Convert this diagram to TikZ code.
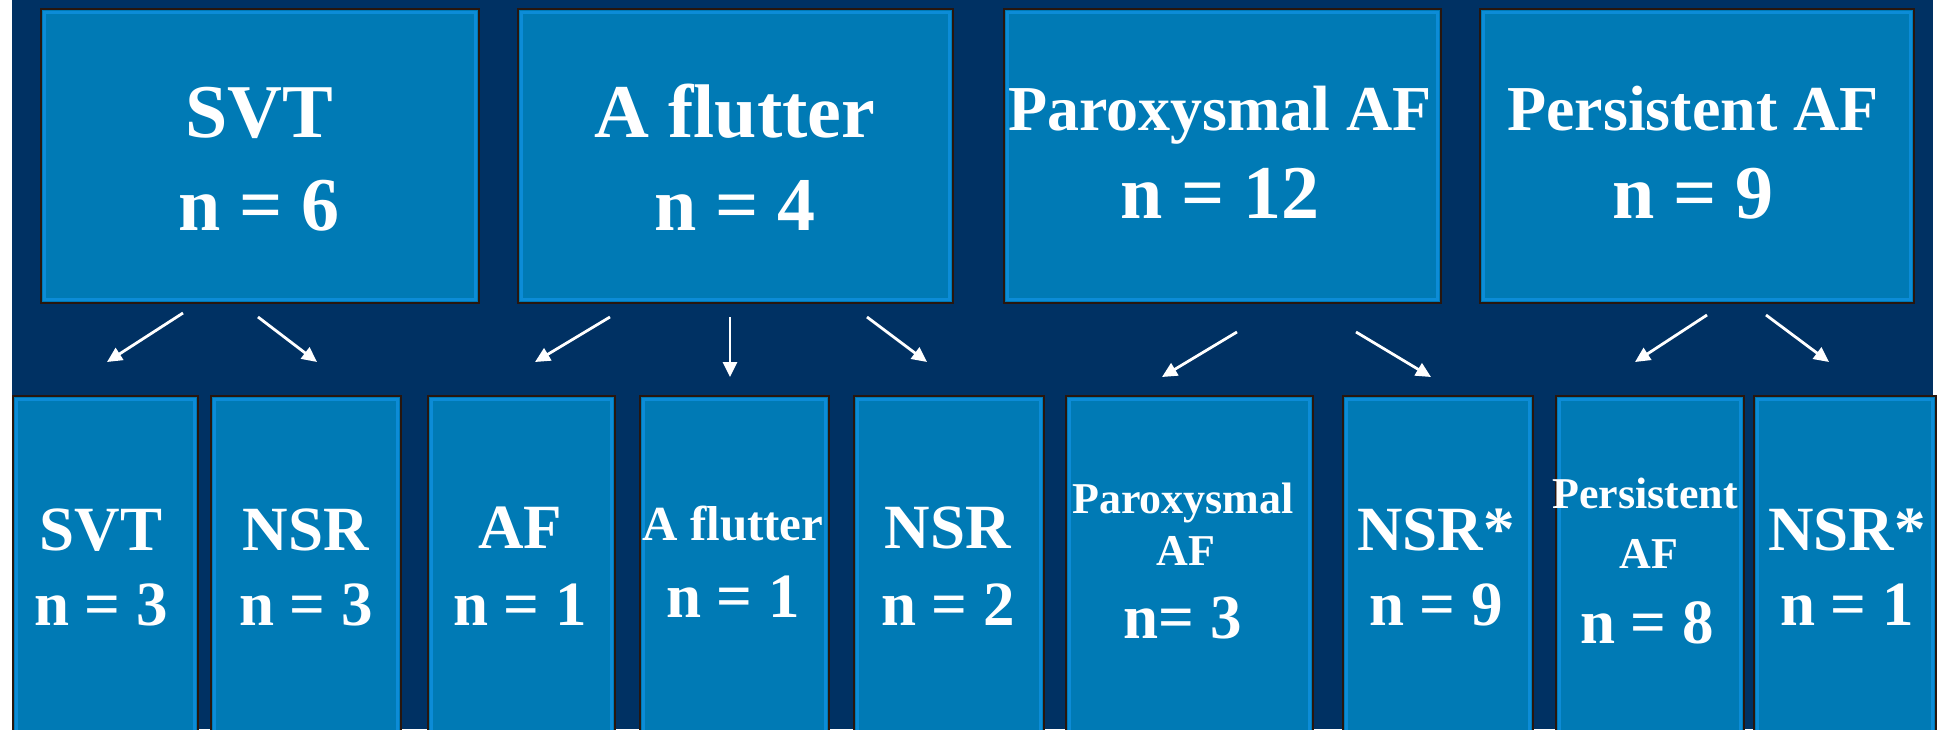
\documentclass[tikz,border=0pt]{standalone}
\usepackage{fontspec}
\setmainfont{Liberation Serif}
\usetikzlibrary{arrows.meta}
\definecolor{navy}{RGB}{0,49,99}
\definecolor{boxblue}{RGB}{0,122,181}
\definecolor{edgec}{RGB}{40,22,14}
\definecolor{rimblue}{RGB}{12,140,215}
\tikzset{
  panel/.style={draw=edgec, line width=1.5pt, fill=boxblue, inner sep=0pt, anchor=north west,
    path picture={\draw[rimblue, line width=2.5pt]
      ([xshift=3.5pt,yshift=-3.5pt]path picture bounding box.north west) rectangle
      ([xshift=-3.5pt,yshift=3.5pt]path picture bounding box.south east);}},
  lbl/.style={text=white, anchor=base, inner sep=0pt},
  bigt/.style={lbl, font=\bfseries\fontsize{76pt}{80pt}\selectfont},
  midt/.style={lbl, font=\bfseries\fontsize{64pt}{68pt}\selectfont},
  lowt/.style={lbl, font=\bfseries\fontsize{63pt}{68pt}\selectfont},
  flt/.style={lbl, font=\bfseries\fontsize{49pt}{54pt}\selectfont},
  smt/.style={lbl, font=\bfseries\fontsize{44pt}{48pt}\selectfont},
  arr/.style={white, line width=2.8pt, -{Triangle[length=15pt,width=14pt]}},
}
\begin{document}
\begin{tikzpicture}[x=1pt,y=-1pt]
\clip (0,0) rectangle (1939,729);
\fill[white] (0,0) rectangle (1939,729);
\fill[navy] (12,0) rectangle (1933,729);
% top panels
\node[panel, minimum width=438pt, minimum height=294pt] (t1) at (40,8) {};
\node[panel, minimum width=435pt, minimum height=294pt] (t2) at (517,8) {};
\node[panel, minimum width=437pt, minimum height=294pt] (t3) at (1003,8) {};
\node[panel, minimum width=434pt, minimum height=294pt] (t4) at (1479,8) {};
% bottom panels
\node[panel, minimum width=185pt, minimum height=345pt] (b1) at (12,395) {};
\node[panel, minimum width=190pt, minimum height=345pt] (b2) at (210,395) {};
\node[panel, minimum width=187pt, minimum height=345pt] (b3) at (427,395) {};
\node[panel, minimum width=189pt, minimum height=345pt] (b4) at (639,395) {};
\node[panel, minimum width=190pt, minimum height=345pt] (b5) at (853,395) {};
\node[panel, minimum width=247pt, minimum height=345pt] (b6) at (1065,395) {};
\node[panel, minimum width=190pt, minimum height=345pt] (b7) at (1342,395) {};
\node[panel, minimum width=188pt, minimum height=345pt] (b8) at (1555,395) {};
\node[panel, minimum width=182pt, minimum height=345pt] (b9) at (1753,395) {};
% top texts
\node[bigt] (t1a) at (259,137) {SVT};
\node[bigt] (t1b) at (259,230) {n = 6};
\node[bigt] (t2a) at (735,137) {A flutter};
\node[bigt] (t2b) at (735,230) {n = 4};
\node[midt] (t3a) at (1220,130) {Paroxysmal AF};
\node[bigt] (t3b) at (1220,218) {n = 12};
\node[midt] (t4a) at (1693,130) {Persistent AF};
\node[bigt] (t4b) at (1693,218) {n = 9};
% bottom texts
\node[lowt] (b1a) at (101,550) {SVT};
\node[lowt] (b1b) at (101,625) {n = 3};
\node[lowt] (b2a) at (306,550) {NSR};
\node[lowt] (b2b) at (306,625) {n = 3};
\node[lowt] (b3a) at (520,548) {AF};
\node[lowt] (b3b) at (520,625) {n = 1};
\node[flt] (b4a) at (733,540) {A flutter};
\node[lowt] (b4b) at (733,617) {n = 1};
\node[lowt] (b5a) at (948,548) {NSR};
\node[lowt] (b5b) at (948,625) {n = 2};
\node[smt] (b6a) at (1183,513) {Paroxysmal};
\node[smt] (b6b) at (1186,565) {AF};
\node[lowt] (b6c) at (1183,638) {n= 3};
\node[lowt] (b7a) at (1436,550) {NSR*};
\node[lowt] (b7b) at (1436,625) {n = 9};
\node[smt] (b8a) at (1645,508) {Persistent};
\node[smt] (b8b) at (1649,568) {AF};
\node[lowt] (b8c) at (1647,643) {n = 8};
\node[lowt] (b9a) at (1847,550) {NSR*};
\node[lowt] (b9b) at (1847,625) {n = 1};
% arrow end points
\coordinate (s1) at (183,313);  \coordinate (e1) at (107,362);
\coordinate (s2) at (258,317);  \coordinate (e2) at (317,362);
\coordinate (s3) at (610,317);  \coordinate (e3) at (535,362);
\coordinate (s4) at (730,317);  \coordinate (e4) at (730,377);
\coordinate (s5) at (867,317);  \coordinate (e5) at (927,362);
\coordinate (s6) at (1237,332); \coordinate (e6) at (1162,377);
\coordinate (s7) at (1356,332); \coordinate (e7) at (1431,377);
\coordinate (s8) at (1707,315); \coordinate (e8) at (1635,362);
\coordinate (s9) at (1766,315); \coordinate (e9) at (1829,362);
\foreach \i in {1,...,9} {\draw[arr] (s\i) -- (e\i);}
\end{tikzpicture}
\end{document}
